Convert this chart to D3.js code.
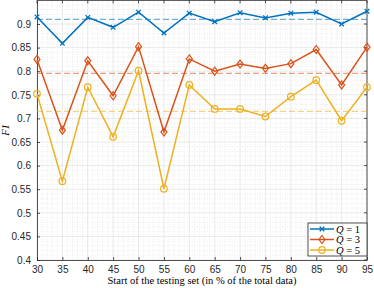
<!DOCTYPE html>
<html>
<head>
<meta charset="utf-8">
<script src="https://cdn.jsdelivr.net/npm/d3@7"></script>
<style>
  body { margin: 0; background: #fff; }
  svg { display: block; }
</style>
</head>
<body>
<div id="chart"></div>
<script>
// test start (% of total data)
var starts = [30, 35, 40, 45, 50, 55, 60, 65, 70, 75, 80, 85, 90, 95];

var q1 = [0.915, 0.859, 0.914, 0.893, 0.925, 0.881, 0.923, 0.905, 0.924, 0.913, 0.923, 0.925, 0.900, 0.927];
var q3 = [0.825, 0.675, 0.822, 0.748, 0.852, 0.671, 0.826, 0.800, 0.815, 0.806, 0.816, 0.846, 0.771, 0.851];
var q5 = [0.752, 0.567, 0.766, 0.661, 0.801, 0.551, 0.771, 0.720, 0.720, 0.704, 0.746, 0.781, 0.695, 0.766];

// dashed reference levels (mean)
var means = [0.910, 0.7955, 0.715];

var seriesNames = ['Q = 1', 'Q = 3', 'Q = 5'];
var seriesColors = ['#0072BD', '#D95319', '#EDB120'];
var seriesMarkers = ['x', 'diamond', 'circle'];

var xTicks = d3.range(30, 96, 5);
var yTicks = [0.4, 0.45, 0.5, 0.55, 0.6, 0.65, 0.7, 0.75, 0.8, 0.85, 0.9];

var W = 374, H = 288;
var svg = d3.select('#chart').append('svg').attr('width', W).attr('height', H);

var x = d3.scaleLinear().domain([30, 95]).range([37, 367]);
var y = d3.scaleLinear().domain([0.4, 0.95]).range([260, 0.4]);

var grid = svg.append('g');
// minor grid
d3.range(30, 96, 1).forEach(function(v) {
    if (v % 5 === 0) return;
    grid.append('line').attr('x1', x(v)).attr('x2', x(v)).attr('y1', y(0.4)).attr('y2', y(0.95))
        .attr('stroke', '#e0e0e0').attr('stroke-width', 0.6).attr('stroke-dasharray', '1,1.5');
});
d3.range(40, 96, 1).forEach(function(k) {
    if (k % 5 === 0) return;
    var v = k / 100;
    grid.append('line').attr('x1', x(30)).attr('x2', x(95)).attr('y1', y(v)).attr('y2', y(v))
        .attr('stroke', '#e0e0e0').attr('stroke-width', 0.6).attr('stroke-dasharray', '1,1.5');
});
// major grid
xTicks.forEach(function(v) {
    grid.append('line').attr('x1', x(v)).attr('x2', x(v)).attr('y1', y(0.4)).attr('y2', y(0.95))
        .attr('stroke', '#e3e3e3').attr('stroke-width', 0.8);
});
yTicks.concat([0.95]).forEach(function(v) {
    grid.append('line').attr('x1', x(30)).attr('x2', x(95)).attr('y1', y(v)).attr('y2', y(v))
        .attr('stroke', '#e3e3e3').attr('stroke-width', 0.8);
});

// axes
var xAxis = svg.append('g').attr('transform', 'translate(0,' + y(0.4) + ')')
    .call(d3.axisBottom(x).tickValues(xTicks).tickSizeInner(-3).tickSizeOuter(0).tickPadding(6));
var yAxis = svg.append('g').attr('transform', 'translate(' + x(30) + ',0)')
    .call(d3.axisLeft(y).tickValues(yTicks).tickSizeInner(-3).tickSizeOuter(0).tickPadding(6)
        .tickFormat(function(d) { return String(+d.toFixed(2)); }));
[xAxis, yAxis].forEach(function(a) {
    a.select('.domain').attr('stroke', '#262626').attr('stroke-width', 0.8);
    a.selectAll('.tick line').attr('stroke', '#262626').attr('stroke-width', 0.8);
    a.selectAll('.tick text').attr('fill', '#262626')
        .attr('font-family', 'Liberation Sans, Arial, sans-serif').attr('font-size', '10px');
});
// right/top box
svg.append('line').attr('x1', x(95)).attr('x2', x(95)).attr('y1', y(0.4)).attr('y2', y(0.95))
    .attr('stroke', '#262626').attr('stroke-width', 0.8);
svg.append('line').attr('x1', x(30)).attr('x2', x(95)).attr('y1', y(0.95)).attr('y2', y(0.95))
    .attr('stroke', '#262626').attr('stroke-width', 0.8);
// right ticks
yTicks.forEach(function(v) {
    svg.append('line').attr('x1', x(95) - 3).attr('x2', x(95)).attr('y1', y(v)).attr('y2', y(v))
        .attr('stroke', '#262626').attr('stroke-width', 0.8);
});
xTicks.forEach(function(v) {
    svg.append('line').attr('x1', x(v)).attr('x2', x(v)).attr('y1', y(0.95)).attr('y2', y(0.95) + 3)
        .attr('stroke', '#262626').attr('stroke-width', 0.8);
});

// dashed mean lines
means.forEach(function(m, i) {
    svg.append('line').attr('x1', x(30)).attr('x2', x(95)).attr('y1', y(m)).attr('y2', y(m))
        .attr('stroke', seriesColors[i]).attr('stroke-opacity', 0.55)
        .attr('stroke-width', 1.3).attr('stroke-dasharray', '6,3');
});

function drawMarker(g, type, cx, cy, color) {
    if (type === 'x') {
        var s = 2.3;
        g.append('path').attr('d', 'M' + (cx - s) + ',' + (cy - s) + 'L' + (cx + s) + ',' + (cy + s) +
            'M' + (cx - s) + ',' + (cy + s) + 'L' + (cx + s) + ',' + (cy - s))
            .attr('stroke', color).attr('stroke-width', 1.3).attr('fill', 'none');
    } else if (type === 'diamond') {
        var w = 3, h = 4;
        g.append('path').attr('d', 'M' + cx + ',' + (cy - h) + 'L' + (cx + w) + ',' + cy + 'L' + cx + ',' + (cy + h) + 'L' + (cx - w) + ',' + cy + 'Z')
            .attr('stroke', color).attr('stroke-width', 1.2).attr('fill', 'none');
    } else {
        g.append('circle').attr('cx', cx).attr('cy', cy).attr('r', 3.3)
            .attr('stroke', color).attr('stroke-width', 1.2).attr('fill', 'none');
    }
}

var line = d3.line().x(function(d) { return x(d[0]); }).y(function(d) { return y(d[1]); });
[q1, q3, q5].forEach(function(vals, i) {
    var pts = starts.map(function(s, j) { return [s, vals[j]]; });
    var g = svg.append('g');
    g.append('path').datum(pts).attr('d', line).attr('fill', 'none')
        .attr('stroke', seriesColors[i]).attr('stroke-width', 1.5);
    pts.forEach(function(p) { drawMarker(g, seriesMarkers[i], x(p[0]), y(p[1]), seriesColors[i]); });
});

// legend
var lg = svg.append('g');
lg.append('rect').attr('x', 308).attr('y', 223).attr('width', 59).attr('height', 33)
    .attr('fill', '#fff').attr('stroke', '#262626').attr('stroke-width', 0.8);
seriesNames.forEach(function(n, i) {
    var ly = 229 + i * 10.5;
    lg.append('line').attr('x1', 310).attr('x2', 334).attr('y1', ly).attr('y2', ly)
        .attr('stroke', seriesColors[i]).attr('stroke-width', 1.5);
    drawMarker(lg, seriesMarkers[i], 322, ly, seriesColors[i]);
    var t = lg.append('text').attr('x', 336).attr('y', ly + 3.5)
        .attr('font-family', 'Liberation Serif, DejaVu Serif, serif').attr('font-size', '10.5px').attr('fill', '#000');
    t.append('tspan').attr('font-style', 'italic').text('Q');
    t.append('tspan').text(' = ' + n.split(' = ')[1]);
});

// axis labels
svg.append('text').attr('x', 202).attr('y', 284).attr('text-anchor', 'middle')
    .attr('font-family', 'Liberation Serif, DejaVu Serif, serif').attr('font-size', '10.5px').attr('fill', '#000')
    .text('Start of the testing set (in % of the total data)');
svg.append('text').attr('transform', 'translate(9,130) rotate(-90)').attr('text-anchor', 'middle')
    .attr('font-family', 'Liberation Serif, DejaVu Serif, serif').attr('font-size', '10.5px').attr('fill', '#000')
    .attr('font-style', 'italic').text('F1');
</script>
</body>
</html>
